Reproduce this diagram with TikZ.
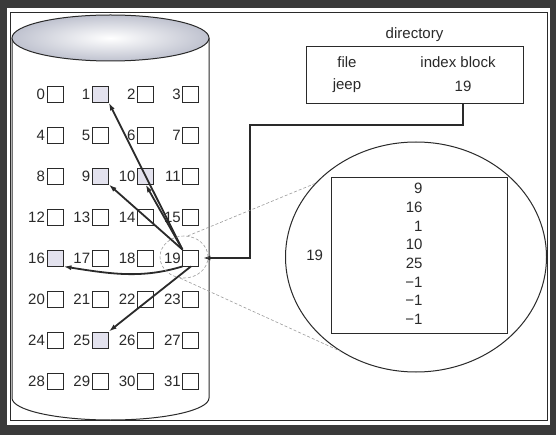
\documentclass[tikz,border=0pt]{standalone}
\usepackage{fontspec}
\setsansfont{Liberation Sans}
\usetikzlibrary{arrows.meta,positioning,shapes.geometric}
\definecolor{ixink}{HTML}{2A2A2A}
\definecolor{ixframe}{HTML}{3A3A3A}
\definecolor{ixfill}{HTML}{E3E2EE}
\definecolor{ixdisk}{HTML}{BFC2CF}
\definecolor{ixhint}{HTML}{9C9C9C}
\tikzset{
  ix text/.style={font=\sffamily\fontsize{15}{18.7}\selectfont, text=ixink},
  ix outline/.style={draw=ixink, line width=1pt},
  ix blk/.style={draw=ixink, line width=0.9pt, minimum size=16pt, inner sep=0pt},
  ix num/.style={anchor=east, inner sep=1.5pt},
  ix arrow/.style={-{Latex[length=8pt,width=5pt]}, line width=1.8pt, draw=ixink},
  ix link/.style={-{Latex[length=7pt,width=5pt]}, line width=2pt, draw=ixink, shorten >=4pt},
  ix hint/.style={draw=ixhint, line width=0.6pt, densely dashed}
}

\begin{document}
\begin{tikzpicture}[ix text, x=1pt, y=-1pt]
  \useasboundingbox (0,0) rectangle (556,435);
  % frame
  \fill[ixframe] (0,0) rectangle (556,435);
  \fill[white] (7,8) rectangle (550,425);
  \draw[ixink, line width=0.8pt] (10,12) rectangle (547,420);
  % disk
  \draw[ix outline, fill=white] (12,38) -- (12,398)
    arc[start angle=180, end angle=0, x radius=98.5, y radius=22] -- (209,38);
  \draw[ix outline, inner color=white, outer color=ixdisk] (110.5,38) ellipse [x radius=98.5, y radius=23];
  % blocks
  \foreach \n in {0,...,31}{
    \pgfmathtruncatemacro\blkrow{int(\n/4)}
    \pgfmathtruncatemacro\blkcol{mod(\n,4)}
    \node[ix blk] (b\n) at ({55+45.3*\blkcol},{94+41*\blkrow}) {};
    \node[ix num] at (b\n.west) {\n};
  }
  \foreach \n in {1,9,10,16,25}
    \node[ix blk, fill=ixfill] at (b\n) {};
  % pointers held in block 19
  \draw[ix arrow] (b19.north west) -- (b1.south east);
  \draw[ix arrow] (b19.north west) -- (b9.south east);
  \draw[ix arrow] (b19.north west) -- (b10.south);
  \draw[ix arrow] (b19.south west) .. controls +(-40,12) and +(50,8) .. (b16.south east);
  \draw[ix arrow] (b19.south) -- (b25.north east);
  % directory
  \node[ix outline, minimum width=217pt, minimum height=57pt] (dir) at (414.5,75.5) {};
  \node[above=1pt of dir] (dtitle) {directory};
  \node (dfile) at (347,62) {file};
  \node (dhead) at (458,62) {index block};
  \node (dname) at (347,86) {jeep};
  \node (dnum) at (463,86) {19};
  \coordinate (dturn) at (250,125);
  \draw[ix link] (dnum |- dir.south) |- (dturn) |- (b19.east);
  % enlarged index block
  \node[ellipse, ix hint, minimum width=48pt, minimum height=42pt] (lens) at (184,257) {};
  \node[ellipse, ix outline, minimum width=261pt, minimum height=230pt] (zoom) at (416,257) {};
  \node[ix outline, minimum width=176pt, minimum height=155pt] (iblk) at (419,255.5) {};
  \node[align=right, anchor=east] (ilist) at (426,254) {9\\16\\1\\10\\25\\−1\\−1\\−1};
  \node[left=4pt of iblk] (ilabel) {19};
  \draw[ix hint] (lens.80) -- (zoom.144);
  \draw[ix hint] (lens.259) -- (zoom.231);
\end{tikzpicture}
\end{document}
